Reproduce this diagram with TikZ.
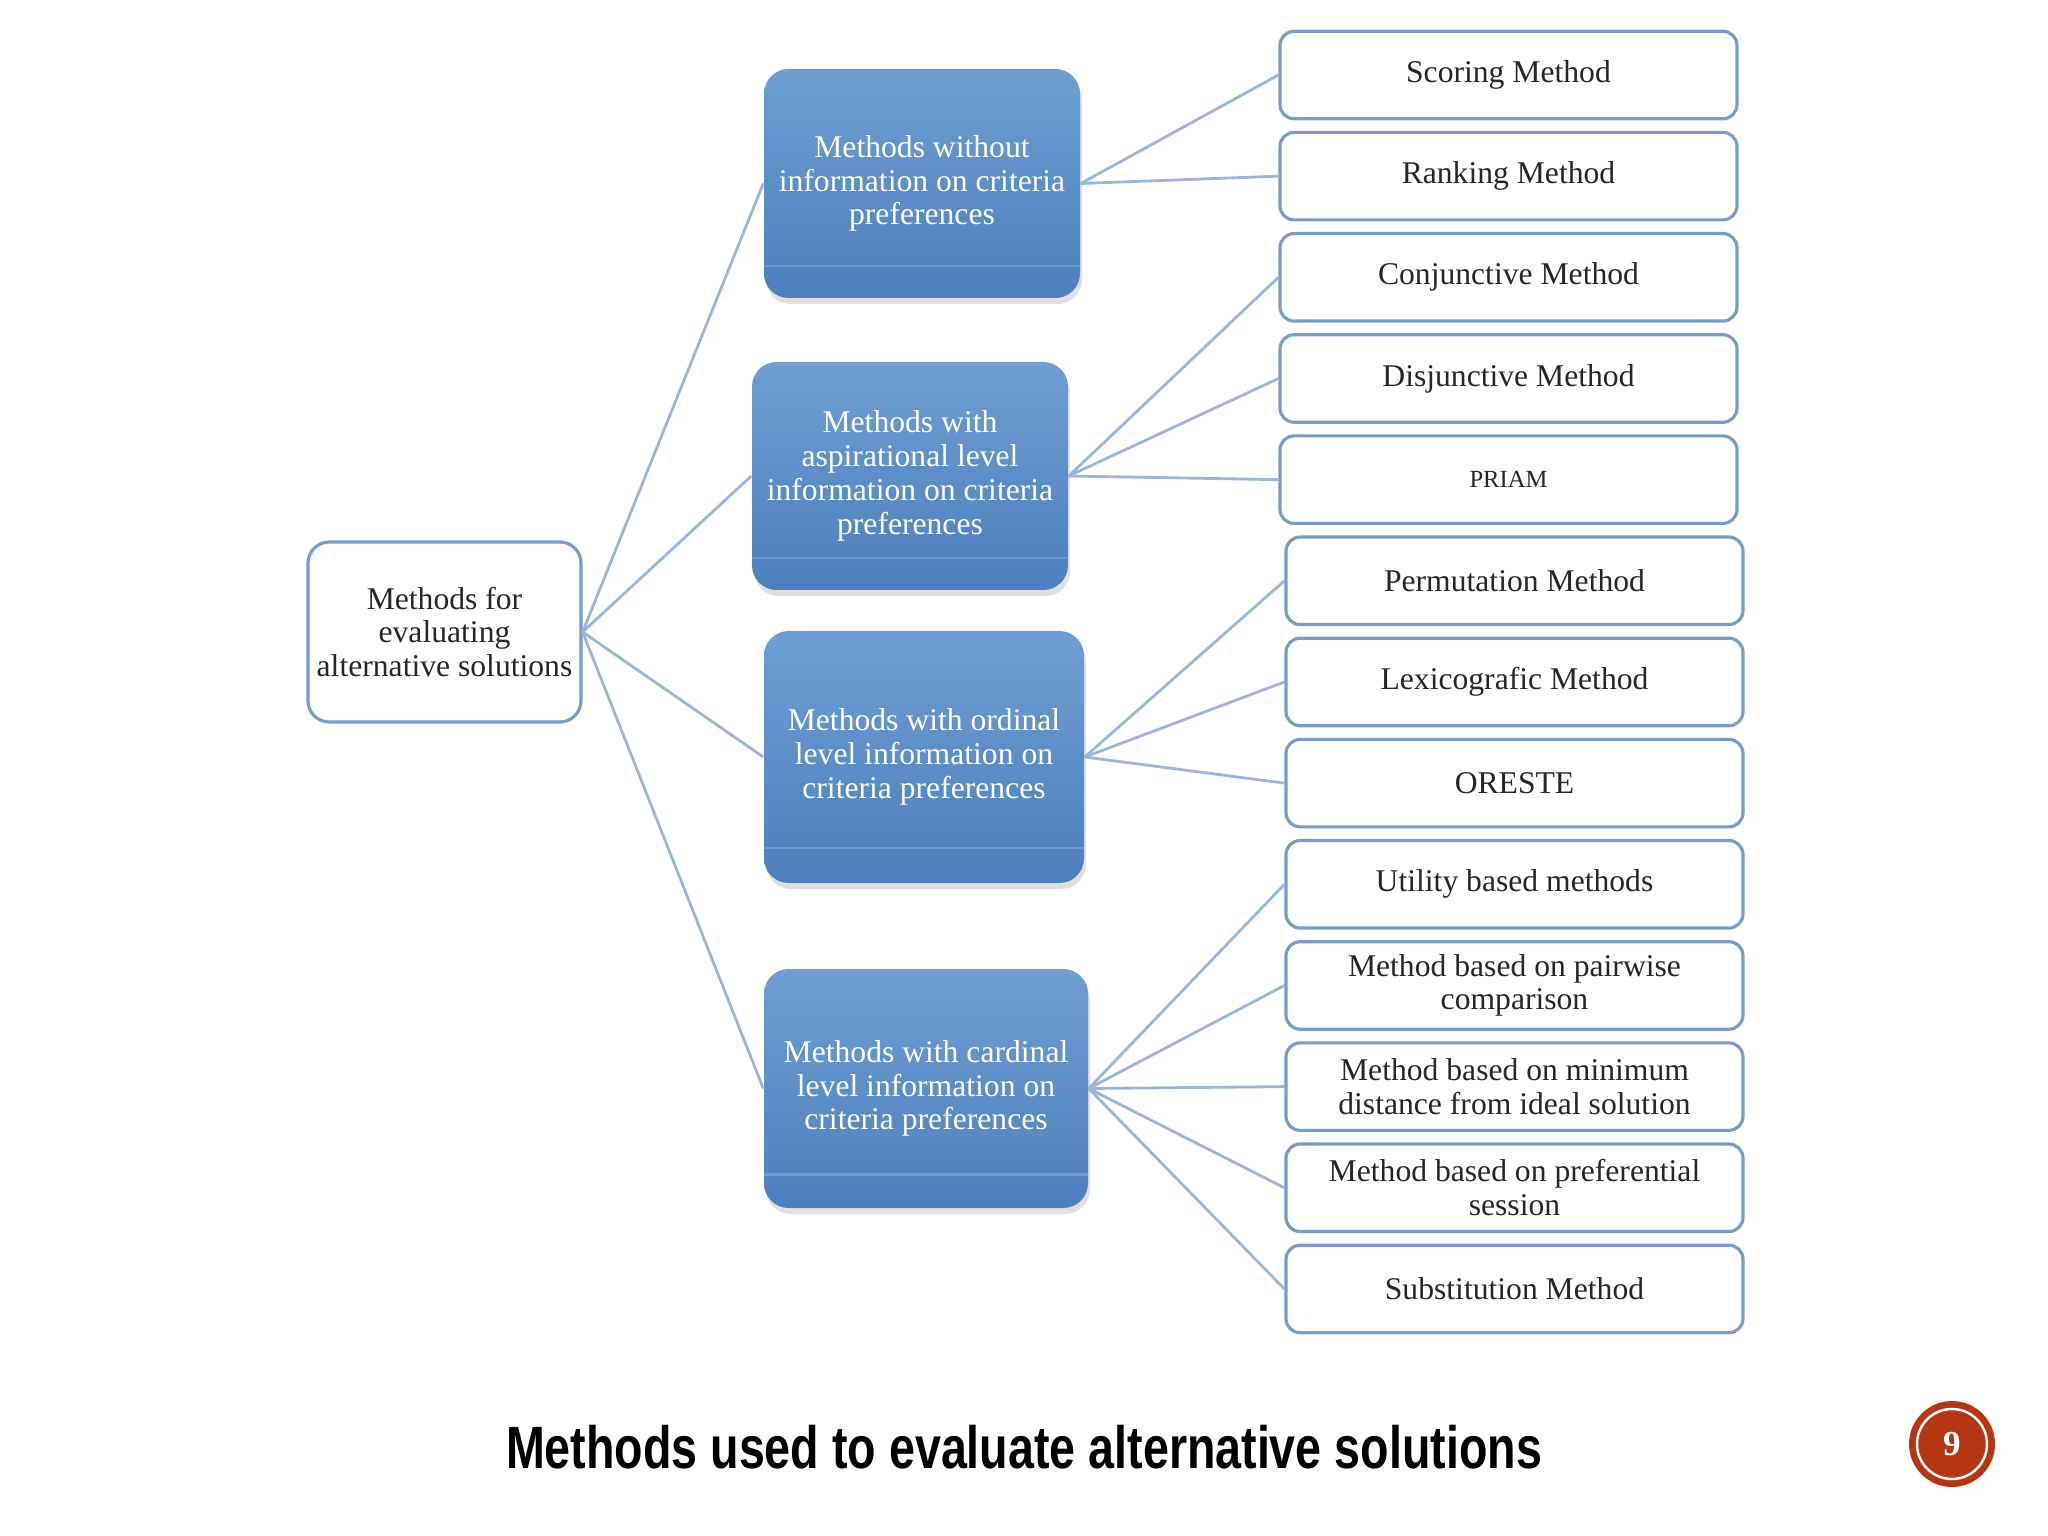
\documentclass[tikz,border=0pt]{standalone}
\usepackage{xcolor}
\usepackage{fontspec}
\setmainfont{Liberation Serif}
\newfontfamily\titlefont{Liberation Sans}[FakeStretch=0.78]
\usetikzlibrary{positioning, shadows, calc}

\definecolor{boxtop}{HTML}{6E9ED2}
\definecolor{boxbot}{HTML}{4C7FBC}
\definecolor{framecol}{HTML}{7A9ACA}
\definecolor{linkcol}{HTML}{9AB4DC}
\definecolor{pagered}{HTML}{B53613}

\begin{document}
\begin{tikzpicture}[node distance=0.105cm and 1.5cm,
  rootbox/.style={rectangle, draw=framecol, line width=0.9pt, rounded corners=6pt, fill=white, align=center, minimum width=2.73cm, minimum height=1.80cm, inner sep=1pt, font=\fontsize{9}{9.6}\selectfont, text=black!85},
  groupbox/.style={rectangle, rounded corners=7pt, top color=boxtop, bottom color=boxbot, align=center, minimum width=3.16cm, inner sep=1pt, text=white, font=\fontsize{9}{9.6}\selectfont,
    drop shadow={opacity=0.25, shadow xshift=0.02cm, shadow yshift=-0.06cm},
    path picture={\draw[white, opacity=0.18, line width=0.6pt] ($(path picture bounding box.north west)!0.86!(path picture bounding box.south west)$) -- ($(path picture bounding box.north east)!0.86!(path picture bounding box.south east)$);}},
  leafbox/.style={rectangle, draw=framecol, line width=0.9pt, rounded corners=4pt, fill=white, align=center, minimum width=4.57cm, minimum height=0.875cm, inner sep=1pt, font=\fontsize{9}{9.6}\selectfont, text=black!85},
  link/.style={draw=linkcol, line width=0.8pt}]
  \useasboundingbox (0,0) rectangle (20.48,-15.36);
  % Root
  \node[rootbox] (root) at (4.445,-6.32) {Methods for\\evaluating\\alternative solutions};
  % Groups
  \node[groupbox, minimum height=2.29cm] (grp1) at (9.22,-1.835) {Methods without\\information on criteria\\preferences};
  \node[groupbox, minimum height=2.28cm] (grp2) at (9.10,-4.76) {Methods with\\aspirational level\\information on criteria\\preferences};
  \node[groupbox, minimum height=2.52cm, minimum width=3.20cm] (grp3) at (9.24,-7.57) {Methods with ordinal\\level information on\\criteria preferences};
  \node[groupbox, minimum height=2.39cm, minimum width=3.24cm] (grp4) at (9.26,-10.885) {Methods with cardinal\\level information on\\criteria preferences};
  % Methods
  \node[leafbox] (scoring) at (15.085,-0.75) {Scoring Method};
  \node[leafbox, below=of scoring] (ranking) {Ranking Method};
  \node[leafbox, below=of ranking] (conjunctive) {Conjunctive Method};
  \node[leafbox, below=of conjunctive] (disjunctive) {Disjunctive Method};
  \node[leafbox, below=of disjunctive, font=\fontsize{7}{8}\selectfont] (priam) {PRIAM};
  \node[leafbox, below=of priam, xshift=0.06cm] (permutation) {Permutation Method};
  \node[leafbox, below=of permutation] (lexico) {Lexicografic Method};
  \node[leafbox, below=of lexico] (oreste) {ORESTE};
  \node[leafbox, below=of oreste] (utility) {Utility based methods};
  \node[leafbox, below=of utility] (pairwise) {Method based on pairwise\\comparison};
  \node[leafbox, below=of pairwise] (mindist) {Method based on minimum\\distance from ideal solution};
  \node[leafbox, below=of mindist] (preferential) {Method based on preferential\\session};
  \node[leafbox, below=of preferential] (substitution) {Substitution Method};
  % Links
  \foreach \grp in {grp1, grp2, grp3, grp4}
    \draw[link] (root.east) -- (\grp.west);
  \foreach \leaf in {scoring, ranking}
    \draw[link] (grp1.east) -- (\leaf.west);
  \foreach \leaf in {conjunctive, disjunctive, priam}
    \draw[link] (grp2.east) -- (\leaf.west);
  \foreach \leaf in {permutation, lexico, oreste}
    \draw[link] (grp3.east) -- (\leaf.west);
  \foreach \leaf in {utility, pairwise, mindist, preferential, substitution}
    \draw[link] (grp4.east) -- (\leaf.west);
  % Title and page number
  \node[font=\titlefont\bfseries\fontsize{17}{20}\selectfont] (title) at (10.24,-14.47) {Methods used to evaluate alternative solutions};
  \node[circle, fill=pagered, minimum size=0.86cm, inner sep=0pt, text=white, font=\bfseries\fontsize{10}{12}\selectfont] (page) at (19.52,-14.44) {9};
  \draw[white, line width=0.7pt] (page) circle[radius=0.35cm];
\end{tikzpicture}
\end{document}
